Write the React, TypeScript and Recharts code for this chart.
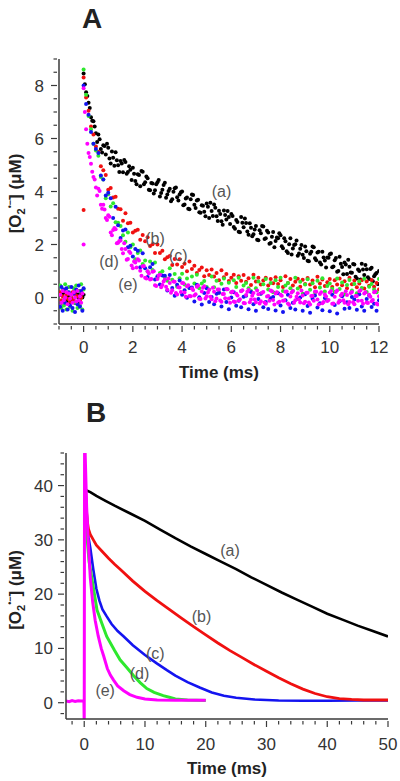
import React from "react";
import { ScatterChart, Scatter, LineChart, Line, XAxis, YAxis, ReferenceDot } from "recharts";

const FONT = "'Liberation Sans', Arial, Helvetica, sans-serif";
const AXIS = "#3a3a3a";
const TEXT = "#333333";

// ---------- panel A : scatter traces (time in ms, [O2-] in uM) ----------
const preTimesA = [-0.95, -0.9, -0.85, -0.8, -0.75, -0.7, -0.65, -0.6, -0.55, -0.5,
  -0.45, -0.4, -0.35, -0.3, -0.25, -0.2, -0.15, -0.1, -0.05, 0];

const timesA = [
  0, 0.1, 0.2, 0.3, 0.4, 0.5, 0.6, 0.7, 0.8, 0.9,
  1, 1.1, 1.2, 1.3, 1.4, 1.5, 1.6, 1.7, 1.8, 1.9,
  2, 2.1, 2.2, 2.3, 2.4, 2.5, 2.6, 2.7, 2.8, 2.9,
  3, 3.1, 3.2, 3.3, 3.4, 3.5, 3.6, 3.7, 3.8, 3.9,
  4, 4.1, 4.2, 4.3, 4.4, 4.5, 4.6, 4.7, 4.8, 4.9,
  5, 5.1, 5.2, 5.3, 5.4, 5.5, 5.6, 5.7, 5.8, 5.9,
  6, 6.1, 6.2, 6.3, 6.4, 6.5, 6.6, 6.7, 6.8, 6.9,
  7, 7.1, 7.2, 7.3, 7.4, 7.5, 7.6, 7.7, 7.8, 7.9,
  8, 8.1, 8.2, 8.3, 8.4, 8.5, 8.6, 8.7, 8.8, 8.9,
  9, 9.1, 9.2, 9.3, 9.4, 9.5, 9.6, 9.7, 9.8, 9.9,
  10, 10.1, 10.2, 10.3, 10.4, 10.5, 10.6, 10.7, 10.8, 10.9,
  11, 11.1, 11.2, 11.3, 11.4, 11.5, 11.6, 11.7, 11.8, 11.9,
  12,
];
// in-between samples (second read of the densest clouds)
const timesA2 = [
  0.05, 0.15, 0.25, 0.35, 0.45, 0.55, 0.65, 0.75, 0.85, 0.95,
  1.05, 1.15, 1.25, 1.35, 1.45, 1.55, 1.65, 1.75, 1.85, 1.95,
  2.05, 2.15, 2.25, 2.35, 2.45, 2.55, 2.65, 2.75, 2.85, 2.95,
  3.05, 3.15, 3.25, 3.35, 3.45, 3.55, 3.65, 3.75, 3.85, 3.95,
  4.05, 4.15, 4.25, 4.35, 4.45, 4.55, 4.65, 4.75, 4.85, 4.95,
  5.05, 5.15, 5.25, 5.35, 5.45, 5.55, 5.65, 5.75, 5.85, 5.95,
  6.05, 6.15, 6.25, 6.35, 6.45, 6.55, 6.65, 6.75, 6.85, 6.95,
  7.05, 7.15, 7.25, 7.35, 7.45, 7.55, 7.65, 7.75, 7.85, 7.95,
  8.05, 8.15, 8.25, 8.35, 8.45, 8.55, 8.65, 8.75, 8.85, 8.95,
  9.05, 9.15, 9.25, 9.35, 9.45, 9.55, 9.65, 9.75, 9.85, 9.95,
  10.05, 10.15, 10.25, 10.35, 10.45, 10.55, 10.65, 10.75, 10.85, 10.95,
  11.05, 11.15, 11.25, 11.35, 11.45, 11.55, 11.65, 11.75, 11.85, 11.95,
];

const preA_a = [0.1, -0.2, 0.15, -0.1, 0.2, -0.15, 0.05, -0.25, 0.1, 0, -0.1, 0.2, -0.2, 0.05, 0.15, -0.05, -0.2, 0.1, 0, 0.1];
const preA_b = [0.2, -0.1, 0.05, 0.25, -0.2, 0.1, -0.05, 0.15, -0.15, 0, 0.2, -0.1, 0.1, -0.2, 0.05, 0.25, -0.1, 0, 0.15, 3.3];
const preA_d = [0.45, -0.4, 0.3, -0.3, 0.5, -0.45, 0.2, 0.4, -0.35, 0.1, -0.5, 0.35, -0.2, 0.45, -0.4, 0.25, -0.3, 0.5, -0.45, 0.3];
const preA_c = [-0.35, 0.4, -0.5, 0.3, -0.2, 0.35, -0.45, 0.2, -0.3, 0.4, -0.4, 0.15, -0.55, 0.3, -0.25, 0.45, -0.35, 0.25, -0.5, 0.35];
const preA_e = [0.1, -0.2, 0.25, -0.1, 0, 0.2, -0.25, 0.15, -0.05, 0.1, -0.2, 0.2, 0, -0.15, 0.25, -0.1, 0.05, -0.2, 0.15, 2.0];

const valsA_a = [
  8.45, 7.75, 7.35, 6.8, 6.65, 6.2, 6.15, 5.6, 5.75, 5.4,
  5.65, 5.06, 5.27, 5.48, 4.99, 5.15, 4.73, 5.11, 4.74, 4.82,
  4.9, 4.4, 4.65, 4.2, 4.75, 4.35, 4.5, 4.05, 4.3, 4.05,
  4.35, 3.81, 4.07, 4.33, 3.89, 4.1, 3.71, 4.12, 3.78, 3.89,
  4.0, 3.51, 3.77, 3.33, 3.89, 3.5, 3.66, 3.22, 3.48, 3.24,
  3.55, 3.0, 3.26, 3.51, 3.07, 3.27, 2.88, 3.28, 2.94, 3.04,
  3.15, 2.66, 2.92, 2.48, 3.04, 2.65, 2.81, 2.37, 2.63, 2.39,
  2.7, 2.16, 2.42, 2.68, 2.24, 2.45, 2.06, 2.47, 2.13, 2.24,
  2.35, 1.86, 2.12, 1.68, 2.24, 1.85, 2.01, 1.58, 1.84, 1.61,
  1.92, 1.39, 1.65, 1.92, 1.48, 1.7, 1.32, 1.73, 1.4, 1.51,
  1.63, 1.14, 1.41, 0.97, 1.54, 1.15, 1.32, 0.89, 1.16, 0.93,
  1.25, 0.72, 1.0, 1.27, 0.85, 1.07, 0.7, 1.12, 0.8, 0.92,
  1.0,
];
const valsA_a2 = [
  8.05, 7.6, 7.15, 6.67, 6.45, 5.87, 5.97, 5.47, 5.72, 5.8,
  5.25, 5.51, 4.97, 5.18, 4.74, 5.06, 5.19, 4.67, 4.95, 4.43,
  4.67, 4.27, 4.62, 4.77, 4.27, 4.57, 4.07, 4.32, 3.92, 4.27,
  4.43, 3.94, 4.25, 3.76, 4.02, 3.63, 3.99, 4.15, 3.66, 3.97,
  3.48, 3.74, 3.35, 3.71, 3.87, 3.38, 3.69, 3.2, 3.46, 3.07,
  3.42, 3.58, 3.08, 3.39, 2.89, 3.15, 2.75, 3.11, 3.26, 2.77,
  3.08, 2.59, 2.85, 2.46, 2.82, 2.98, 2.49, 2.8, 2.31, 2.57,
  2.18, 2.54, 2.7, 2.21, 2.52, 2.03, 2.29, 1.9, 2.26, 2.42,
  1.93, 2.24, 1.75, 2.01, 1.62, 1.98, 2.15, 1.66, 1.98, 1.49,
  1.75, 1.37, 1.73, 1.9, 1.41, 1.73, 1.25, 1.51, 1.13, 1.5,
  1.66, 1.17, 1.49, 1.0, 1.27, 0.88, 1.25, 1.42, 0.94, 1.26,
  0.78, 1.06, 0.68, 1.06, 1.23, 0.76, 1.08, 0.61, 0.88, 0.51,
];
const valsA_b = [
  8.3, 7.55, 7.05, 6.45, 6.15, 5.7, 5.5, 4.95, 4.8, 4.62,
  4.07, 4.13, 3.77, 3.8, 3.35, 3.33, 2.9, 3.18, 2.8, 2.82,
  2.45, 2.52, 2.56, 2.18, 2.36, 2.12, 2.27, 1.94, 2.01, 1.68,
  2.0, 1.68, 1.76, 1.44, 1.52, 1.57, 1.23, 1.45, 1.25, 1.44,
  1.15, 1.27, 0.99, 1.36, 1.08, 1.2, 0.92, 1.04, 1.13, 0.8,
  1.03, 0.85, 1.06, 0.79, 0.92, 0.65, 1.03, 0.76, 0.89, 0.62,
  0.75, 0.86, 0.55, 0.8, 0.63, 0.85, 0.59, 0.73, 0.47, 0.86,
  0.6, 0.75, 0.49, 0.64, 0.75, 0.45, 0.7, 0.54, 0.76, 0.51,
  0.65, 0.4, 0.8, 0.55, 0.7, 0.45, 0.59, 0.71, 0.41, 0.67,
  0.51, 0.74, 0.49, 0.64, 0.39, 0.78, 0.53, 0.68, 0.43, 0.58,
  0.7, 0.4, 0.65, 0.49, 0.72, 0.46, 0.61, 0.35, 0.75, 0.5,
  0.64, 0.39, 0.53, 0.65, 0.34, 0.6, 0.44, 0.66, 0.41, 0.55,
  0.3,
];
const valsA_d = [
  8.6, 7.65, 6.85, 6.35, 5.8, 5.55, 5.35, 4.55, 4.45, 3.75,
  3.9, 3.43, 3.56, 2.84, 2.82, 2.7, 2.35, 2.1, 2.45, 1.9,
  2.0, 1.44, 1.68, 1.77, 1.26, 1.4, 0.98, 1.36, 1.04, 1.32,
  0.75, 0.92, 0.99, 0.76, 0.63, 1.1, 0.67, 0.89, 0.41, 0.73,
  0.9, 0.49, 0.72, 0.36, 0.79, 0.53, 0.86, 0.35, 0.53, 0.62,
  0.4, 0.3, 0.79, 0.39, 0.63, 0.18, 0.52, 0.72, 0.31, 0.56,
  0.2, 0.65, 0.4, 0.75, 0.25, 0.45, 0.55, 0.35, 0.25, 0.75,
  0.35, 0.6, 0.15, 0.5, 0.7, 0.3, 0.55, 0.2, 0.65, 0.4,
  0.75, 0.25, 0.45, 0.55, 0.35, 0.25, 0.75, 0.34, 0.59, 0.14,
  0.49, 0.69, 0.29, 0.54, 0.19, 0.63, 0.38, 0.73, 0.23, 0.43,
  0.53, 0.33, 0.22, 0.72, 0.32, 0.57, 0.12, 0.47, 0.66, 0.26,
  0.51, 0.16, 0.61, 0.36, 0.71, 0.21, 0.41, 0.51, 0.3, 0.2,
  0.7,
];
const valsA_c = [
  8.0, 7.3, 6.9, 6.25, 5.8, 5.6, 5.45, 4.6, 4.45, 3.85,
  3.95, 3.75, 3.0, 3.42, 2.73, 2.25, 2.53, 2.57, 1.9, 1.95,
  1.55, 1.83, 1.76, 1.14, 1.67, 1.1, 0.77, 1.14, 1.26, 0.68,
  0.8, 0.49, 0.83, 0.82, 0.26, 0.85, 0.36, 0.07, 0.48, 0.64,
  0.1, 0.27, -0.01, 0.36, 0.38, -0.15, 0.48, 0.01, -0.26, 0.17,
  0.35, -0.17, 0.02, -0.25, 0.14, 0.18, -0.34, 0.3, -0.17, -0.44,
  0.0, 0.2, -0.31, -0.12, -0.37, 0.03, 0.07, -0.44, 0.21, -0.25,
  -0.5, -0.06, 0.14, -0.37, -0.17, -0.43, -0.03, 0.02, -0.49, 0.16,
  -0.3, -0.55, -0.1, 0.1, -0.4, -0.2, -0.45, -0.05, 0.0, -0.5,
  0.12, -0.32, -0.58, -0.05, 0.08, -0.38, -0.22, -0.48, -0.02, -0.1,
  -0.52, 0.1, -0.28, -0.6, -0.14, 0.05, -0.42, -0.18, -0.4, 0.02,
  -0.08, -0.46, 0.12, -0.34, -0.5, -0.06, 0.08, -0.36, -0.24, -0.5,
  -0.1,
];
const valsA_e = [
  7.9, 6.35, 5.45, 5.05, 4.55, 4.15, 4.1, 3.5, 3.5, 3.0,
  3.1, 2.45, 2.55, 2.58, 2.07, 2.15, 1.67, 1.83, 1.45, 1.68,
  1.1, 1.32, 1.44, 1.01, 1.18, 0.75, 0.99, 0.68, 0.97, 0.46,
  0.7, 0.86, 0.47, 0.68, 0.29, 0.55, 0.27, 0.59, 0.11, 0.38,
  0.55, 0.19, 0.42, 0.06, 0.34, 0.08, 0.41, -0.05, 0.23, 0.42,
  0.05, 0.29, -0.07, 0.22, -0.04, 0.3, -0.16, 0.13, 0.32, -0.04,
  0.2, -0.15, 0.14, -0.11, 0.24, -0.21, 0.09, 0.28, -0.08, 0.17,
  -0.18, 0.12, -0.14, 0.21, -0.24, 0.06, 0.26, -0.09, 0.15, -0.2,
  0.1, -0.12, 0.22, -0.23, 0.04, 0.25, -0.1, 0.16, -0.19, 0.08,
  -0.16, 0.18, -0.26, 0.07, 0.23, -0.08, 0.13, -0.22, 0.11, -0.13,
  0.19, -0.24, 0.03, 0.26, -0.11, 0.14, -0.2, 0.09, -0.17, 0.21,
  -0.25, 0.06, 0.24, -0.12, 0.15, -0.19, 0.1, -0.14, 0.2, -0.23,
  0.05,
];
const valsA_e2 = [
  7.0, 5.8, 5.3, 4.75, 4.45, 3.85, 4.02, 3.35, 3.32, 2.92,
  3.05, 2.35, 2.62, 2.05, 2.13, 1.83, 2.05, 1.42, 1.74, 1.21,
  1.36, 1.13, 1.4, 0.82, 1.19, 0.72, 0.91, 0.7, 0.99, 0.43,
  0.83, 0.39, 0.6, 0.41, 0.72, 0.18, 0.6, 0.17, 0.39, 0.21,
  0.54, 0.03, 0.46, 0.05, 0.28, 0.12, 0.45, -0.06, 0.37, -0.04,
  0.19, 0.03, 0.37, -0.14, 0.3, -0.11, 0.13, -0.03, 0.31, -0.2,
  0.23, -0.17, 0.08, -0.07, 0.27, -0.22, 0.22, -0.18, 0.07, -0.08,
  0.26, -0.23, 0.18, -0.19, 0.04, -0.12, 0.24, -0.26, 0.2, -0.16,
  0.07, -0.11, 0.23, -0.27, 0.19, -0.2, 0.03, -0.08, 0.26, -0.22,
  0.18, -0.19, 0.06, -0.12, 0.22, -0.26, 0.2, -0.17, 0.04, -0.09,
  0.25, -0.23, 0.21, -0.2, 0.08, -0.1, 0.24, -0.25, 0.17, -0.18,
  0.06, -0.12, 0.27, -0.24, 0.2, -0.21, 0.03, -0.09, 0.23, -0.26,
];

const xTicksA = [-1, -0.5, 0, 0.5, 1, 1.5, 2, 2.5, 3, 3.5, 4, 4.5, 5, 5.5, 6, 6.5, 7, 7.5, 8, 8.5, 9, 9.5, 10, 10.5, 11, 11.5, 12];
const xMajorA = [0, 2, 4, 6, 8, 10, 12];
const yTicksA = [-1, -0.5, 0, 0.5, 1, 1.5, 2, 2.5, 3, 3.5, 4, 4.5, 5, 5.5, 6, 6.5, 7, 7.5, 8, 8.5, 9];
const yMajorA = [0, 2, 4, 6, 8];

const notesA = [
  { text: "(a)", t: 5.6, v: 4.0 },
  { text: "(b)", t: 2.9, v: 2.24 },
  { text: "(c)", t: 3.84, v: 1.6 },
  { text: "(d)", t: 1.03, v: 1.36 },
  { text: "(e)", t: 1.8, v: 0.48 },
];

// ---------- panel B : averaged traces ----------
const bT_a = [0.4, 1, 2, 3.5, 5, 7.5, 10, 12.5, 15, 17.5, 20, 22.5, 25, 27.5, 30, 32.5, 35, 37.5, 40, 42.5, 45, 47.5, 50];
const bV_a = [39.1, 38.8, 38.1, 37.2, 36.3, 34.9, 33.5, 31.9, 30.3, 28.8, 27.4, 26.0, 24.6, 23.1, 21.7, 20.3, 19.0, 17.7, 16.4, 15.3, 14.2, 13.2, 12.2];

const bT_b = [0.15, 0.3, 0.5, 0.7, 1, 1.5, 2, 3, 4, 5, 6, 8, 10, 12, 14, 16, 18, 20, 22, 24, 26, 28, 30, 32, 34, 36, 38, 40, 42, 44, 46, 48, 50];
const bV_b = [42, 36.5, 33.5, 32, 31, 30, 29, 27.8, 26.6, 25.5, 24.5, 22.4, 20.5, 18.8, 17.2, 15.6, 14.0, 12.5, 11.0, 9.6, 8.3, 7.0, 5.8, 4.6, 3.5, 2.5, 1.7, 1.1, 0.75, 0.6, 0.5, 0.5, 0.5];

const bT_c = [0.15, 0.3, 0.5, 0.7, 1, 1.5, 2, 2.5, 3, 3.7, 4.5, 5.5, 6.5, 8, 10, 12, 13.6, 15, 17, 19, 21, 23, 25, 28, 32, 36, 40, 45, 50];
const bV_c = [42, 37, 33, 30.5, 28.5, 24.5, 21, 18.8, 17.2, 15.9, 14.5, 13.2, 12.2, 10.6, 8.8, 7.2, 6.0, 5.0, 3.8, 2.8, 1.9, 1.3, 0.9, 0.6, 0.4, 0.35, 0.35, 0.4, 0.4];

const bT_d = [0.15, 0.3, 0.5, 0.8, 1.3, 2.1, 3, 3.7, 5, 5.9, 7, 8.1, 9.2, 10.3, 11.5, 13, 14, 15, 17, 20];
const bV_d = [41, 35, 30, 26, 22.6, 17.1, 14.3, 12.2, 9.6, 7.9, 6.5, 5.0, 3.7, 2.6, 1.9, 1.3, 1.0, 0.7, 0.5, 0.4];

const bT_e = [-3, -2.5, -2, -1.5, -1, -0.5, -0.05, 0, 0.06, 0.2, 0.4, 0.6, 1, 1.4, 1.8, 2.3, 2.8, 3.2, 3.8, 4.3, 4.8, 5.5, 6.5, 7.5, 8.7, 10, 12, 15, 18, 20];
const bV_e = [0.3, 0.2, 0.4, 0.25, 0.35, 0.3, 0.3, -4, 50, 44, 36, 31, 23, 18.5, 15.2, 12.3, 10.0, 8.6, 6.3, 5.1, 4.2, 3.1, 2.2, 1.5, 1.0, 0.7, 0.5, 0.45, 0.45, 0.45];

const xTicksB = [-2, 0, 2, 4, 6, 8, 10, 12, 14, 16, 18, 20, 22, 24, 26, 28, 30, 32, 34, 36, 38, 40, 42, 44, 46, 48, 50];
const xMajorB = [0, 10, 20, 30, 40, 50];
const yTicksB = [-2, 0, 2, 4, 6, 8, 10, 12, 14, 16, 18, 20, 22, 24, 26, 28, 30, 32, 34, 36, 38, 40, 42, 44, 46];
const yMajorB = [0, 10, 20, 30, 40];

const notesB = [
  { text: "(a)", t: 24, v: 28.1 },
  { text: "(b)", t: 19.3, v: 15.9 },
  { text: "(c)", t: 11.7, v: 9.1 },
  { text: "(d)", t: 9.1, v: 5.4 },
  { text: "(e)", t: 3.45, v: 2.3 },
];

const COLORS = { a: "#000000", b: "#f01010", c: "#1414f0", d: "#2ee82e", e: "#ff00ff" };

const zip = (ts: number[], vs: number[]) => ts.map((t, i) => ({ t, v: vs[i] }));
const scatterA = [
  { key: "a", color: COLORS.a, data: [...zip(preTimesA, preA_a), ...zip(timesA, valsA_a), ...zip(timesA2, valsA_a2)] },
  { key: "b", color: COLORS.b, data: [...zip(preTimesA, preA_b), ...zip(timesA, valsA_b)] },
  { key: "d", color: COLORS.d, data: [...zip(preTimesA, preA_d), ...zip(timesA, valsA_d)] },
  { key: "c", color: COLORS.c, data: [...zip(preTimesA, preA_c), ...zip(timesA, valsA_c)] },
  { key: "e", color: COLORS.e, data: [...zip(preTimesA, preA_e), ...zip(timesA, valsA_e), ...zip(timesA2, valsA_e2)] },
];
const linesB = [
  { key: "c", color: COLORS.c, width: 2.6, data: zip(bT_c, bV_c) },
  { key: "b", color: COLORS.b, width: 2.8, data: zip(bT_b, bV_b) },
  { key: "a", color: COLORS.a, width: 2.6, data: zip(bT_a, bV_a) },
  { key: "d", color: COLORS.d, width: 3, data: zip(bT_d, bV_d) },
  { key: "e", color: COLORS.e, width: 3, data: zip(bT_e, bV_e) },
];

const xTick = (majors: number[], dy: number) => (props: any) => {
  const { x, y, payload } = props;
  const major = majors.includes(payload.value);
  return (
    <g>
      <line x1={x} y1={y} x2={x} y2={y + (major ? 6 : 3.5)} stroke={AXIS} strokeWidth={1.2} />
      {major && (
        <text x={x} y={y + dy} textAnchor="middle" fontSize={17} fill={TEXT} fontFamily={FONT}>
          {payload.value}
        </text>
      )}
    </g>
  );
};

const yTick = (majors: number[], dx: number) => (props: any) => {
  const { x, y, payload } = props;
  const major = majors.includes(payload.value);
  return (
    <g>
      <line x1={x} y1={y} x2={x - (major ? 6 : 3.5)} y2={y} stroke={AXIS} strokeWidth={1.2} />
      {major && (
        <text x={x - dx} y={y + 6} textAnchor="end" fontSize={17} fill={TEXT} fontFamily={FONT}>
          {payload.value}
        </text>
      )}
    </g>
  );
};

const XTitle = (props: any) => {
  const vb = props.viewBox;
  if (!vb) return null;
  return (
    <text x={vb.x + vb.width / 2} y={vb.y + props.gap} textAnchor="middle" fontSize={17} fontWeight="bold" fill="#222" fontFamily={FONT}>
      Time (ms)
    </text>
  );
};

const YTitle = (props: any) => {
  const vb = props.viewBox;
  if (!vb) return null;
  const cy = vb.y + vb.height / 2 + props.shift;
  return (
    <text transform={`translate(15,${cy}) rotate(-90)`} textAnchor="middle" dominantBaseline="central" fontSize={17} fontWeight="bold" fill="#222" fontFamily={FONT}>
      [O<tspan baselineShift="sub" fontSize={11}>2</tspan>
      <tspan baselineShift="super" fontSize={9}>•−</tspan>] (μM)
    </text>
  );
};

const dotShape = (color: string) => (p: any) => <circle cx={p.cx} cy={p.cy} r={2} fill={color} />;

const axisLine = { stroke: AXIS, strokeWidth: 1.5 };
const noteLabel = (text: string) => ({ value: text, position: "center" as const, fill: "#555", fontSize: 16, fontFamily: FONT });

function PanelA() {
  return (
    <ScatterChart width={400} height={390} margin={{ top: 59, right: 21, bottom: 36, left: 0 }}>
      <XAxis type="number" dataKey="t" domain={[-1, 12]} ticks={xTicksA} interval={0} allowDataOverflow
        height={30} tickSize={0} tickLine={false} axisLine={axisLine} tick={xTick(xMajorA, 27)}
        label={<XTitle gap={54} />} />
      <YAxis type="number" dataKey="v" domain={[-1, 9]} ticks={yTicksA} interval={0} allowDataOverflow
        width={59} tickSize={0} tickLine={false} axisLine={axisLine} tick={yTick(yMajorA, 13)}
        label={<YTitle shift={2} />} />
      {scatterA.map((s) => (
        <Scatter key={s.key} data={s.data} fill={s.color} shape={dotShape(s.color)} isAnimationActive={false} />
      ))}
      {notesA.map((n) => (
        <ReferenceDot key={n.text} x={n.t} y={n.v} r={0} fill="none" stroke="none" label={noteLabel(n.text)} />
      ))}
    </ScatterChart>
  );
}

function PanelB() {
  return (
    <LineChart width={400} height={391} margin={{ top: 63, right: 12, bottom: 32, left: 0 }}>
      <XAxis type="number" dataKey="t" domain={[-3, 50]} ticks={xTicksB} interval={0} allowDataOverflow
        height={30} tickSize={0} tickLine={false} axisLine={axisLine} tick={xTick(xMajorB, 29)}
        label={<XTitle gap={55} />} />
      <YAxis type="number" domain={[-3, 46]} ticks={yTicksB} interval={0} allowDataOverflow
        width={66} tickSize={0} tickLine={false} axisLine={axisLine} tick={yTick(yMajorB, 11)}
        label={<YTitle shift={4} />} />
      {linesB.map((l) => (
        <Line key={l.key} data={l.data} dataKey="v" type="linear" stroke={l.color} strokeWidth={l.width}
          dot={false} activeDot={false} isAnimationActive={false} />
      ))}
      {notesB.map((n) => (
        <ReferenceDot key={n.text} x={n.t} y={n.v} r={0} fill="none" stroke="none" label={noteLabel(n.text)} />
      ))}
    </LineChart>
  );
}

export default function App() {
  return (
    <div style={{ position: "absolute", left: 0, top: 0, width: 400, height: 781, background: "#fff" }}>
      <div style={{ position: "absolute", left: 0, top: 0 }}>
        <PanelA />
      </div>
      <div style={{ position: "absolute", left: 0, top: 390 }}>
        <PanelB />
      </div>
      <svg width={400} height={781} style={{ position: "absolute", left: 0, top: 0, pointerEvents: "none" }}>
        <text x={92} y={28} textAnchor="middle" fontSize={28} fontWeight="bold" fill="#222" fontFamily={FONT}>A</text>
        <text x={96} y={422} textAnchor="middle" fontSize={28} fontWeight="bold" fill="#222" fontFamily={FONT}>B</text>
      </svg>
    </div>
  );
}
